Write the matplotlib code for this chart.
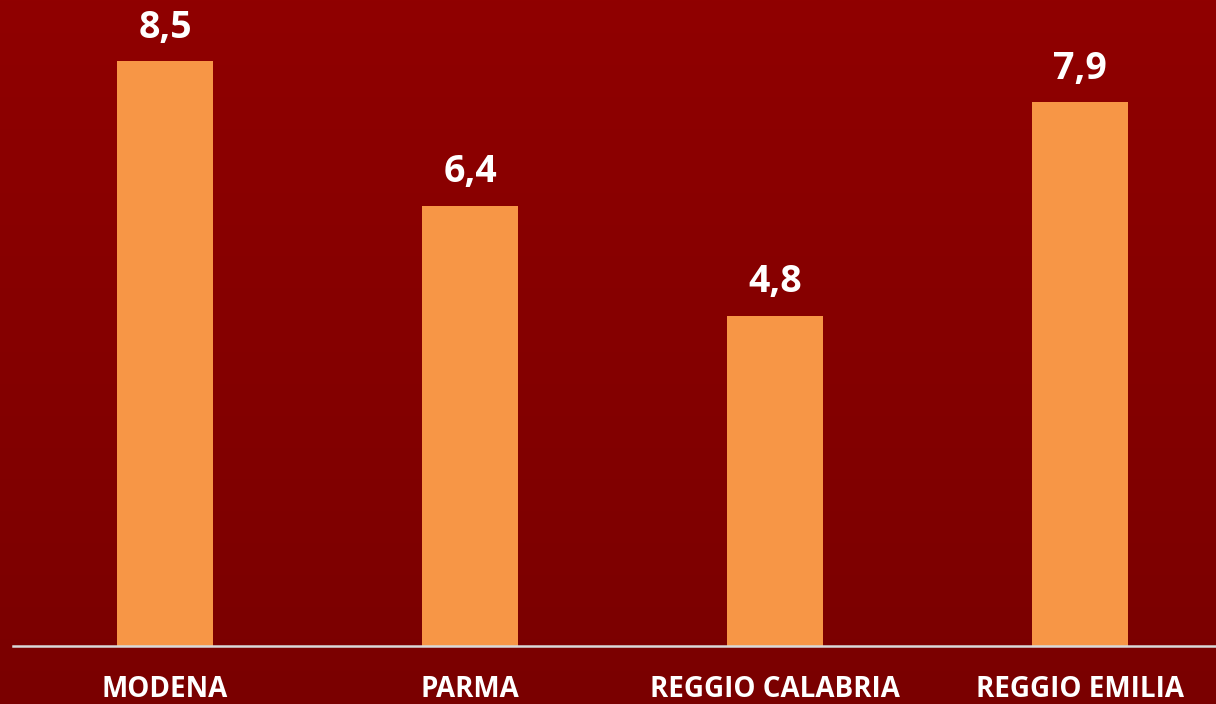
import numpy as np
import matplotlib.pyplot as plt

citta = ['MODENA', 'PARMA', 'REGGIO CALABRIA', 'REGGIO EMILIA']
valori = [8.5, 6.4, 4.8, 7.9]

plt.rcParams['font.family'] = ['Open Sans', 'DejaVu Sans']

fig = plt.figure(figsize=(12.16, 7.04), dpi=100)

# sfondo sfumato rosso scuro
sfondo = fig.add_axes([0, 0, 1, 1])
grad = np.linspace(0, 1, 256).reshape(-1, 1)
top = np.array([144, 0, 0]) / 255
bot = np.array([122, 0, 0]) / 255
img = top + (bot - top) * grad[:, :, None]
sfondo.imshow(img, aspect='auto', extent=[0, 1, 0, 1])
sfondo.axis('off')

ax = fig.add_axes([12.5 / 1216, 58 / 704, 1220 / 1216, 619.2 / 704])
ax.patch.set_alpha(0)
x = np.arange(len(citta))
ax.bar(x, valori, width=0.315, color='#F79646', zorder=2)
ax.set_xlim(-0.5, len(citta) - 0.5)
ax.set_ylim(0, 9)

for s in ['top', 'right', 'left']:
    ax.spines[s].set_visible(False)
ax.spines['bottom'].set_color('#D9D9D9')
ax.spines['bottom'].set_linewidth(1.8)
ax.set_yticks([])
ax.set_xticks([])

for i, v in enumerate(valori):
    ax.annotate(f'{v:.1f}'.replace('.', ','), xy=(i, v), xytext=(0, 17),
                textcoords='offset points', ha='center', va='baseline',
                color='white', fontsize=27, fontweight='bold')
    ax.annotate(citta[i], xy=(i, 0), xycoords=('data', 'axes fraction'),
                xytext=(0, -37), textcoords='offset points',
                ha='center', va='baseline', color='white',
                fontsize=20, fontweight='bold')

fig.savefig('out.png', dpi=100)
